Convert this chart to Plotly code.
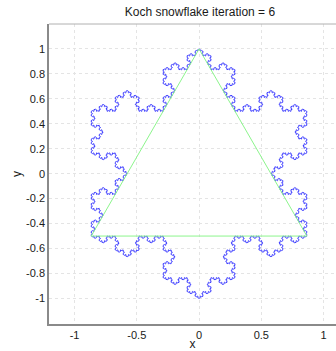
import numpy as np
import plotly.graph_objects as go

iteration = 6
# triangle vertices (clockwise): top, bottom-right, bottom-left
tri_x = [0.0, 0.8660254, -0.8660254]
tri_y = [1.0, -0.5, -0.5]

def koch(px, py, n):
    pts = np.array(list(zip(px, py)) + [(px[0], py[0])], dtype=float)
    c, s = np.cos(np.pi / 3), np.sin(np.pi / 3)
    for _ in range(n):
        a = pts[:-1]
        b = pts[1:]
        d = (b - a) / 3.0
        p1 = a + d
        p3 = a + 2 * d
        rot = np.stack([d[:, 0] * c - d[:, 1] * s, d[:, 0] * s + d[:, 1] * c], axis=1)
        p2 = p1 + rot
        new = np.stack([a, p1, p2, p3], axis=1).reshape(-1, 2)
        pts = np.vstack([new, pts[-1:]])
    return pts[:, 0], pts[:, 1]

kx, ky = koch(tri_x, tri_y, iteration)

fig = go.Figure()
fig.add_trace(go.Scatter(x=kx, y=ky, mode="lines",
                         line=dict(color="rgb(60,60,255)", width=1), showlegend=False))
fig.add_trace(go.Scatter(x=tri_x + [tri_x[0]], y=tri_y + [tri_y[0]], mode="lines",
                         line=dict(color="rgb(140,245,140)", width=1), showlegend=False))

axis_common = dict(
    showgrid=True, gridcolor="#e4e4e4", griddash="dot", gridwidth=1,
    zeroline=False, showline=True, linecolor="#8a8a8a", linewidth=1.5,
    ticks="", tickfont=dict(family="Liberation Sans, Arial", size=11, color="#1a1a1a"),
    mirror=False,
)

fig.update_layout(
    width=336, height=351,
    margin=dict(l=49, r=0, t=24, b=27),
    plot_bgcolor="white", paper_bgcolor="white",
    title=dict(text="Koch snowflake iteration = 6", x=0.595, xanchor="center",
               y=1 - 12 / 351, yanchor="middle", yref="container",
               font=dict(family="Liberation Sans, Arial", size=12, color="#1a1a1a")),
    xaxis=dict(range=[-1.205, 1.1], tickvals=[-1, -0.5, 0, 0.5, 1],
               ticktext=["-1", "-0.5", "0", "0.5", "1"],
               title=dict(text="x", standoff=3,
                          font=dict(family="Liberation Sans, Arial", size=12, color="#1a1a1a")),
               **axis_common),
    yaxis=dict(range=[-1.205, 1.2], tickvals=[-1, -0.8, -0.6, -0.4, -0.2, 0, 0.2, 0.4, 0.6, 0.8, 1],
               ticktext=["-1", "-0.8", "-0.6", "-0.4", "-0.2", "0", "0.2", "0.4", "0.6", "0.8", "1"],
               title=dict(text="y", standoff=2,
                          font=dict(family="Liberation Sans, Arial", size=12, color="#1a1a1a")),
               **axis_common),
)
fig.add_shape(type="line", xref="paper", yref="paper", x0=0, x1=1, y0=1, y1=1,
              line=dict(color="#b0b0b0", width=1))

fig.write_html("out.html")
